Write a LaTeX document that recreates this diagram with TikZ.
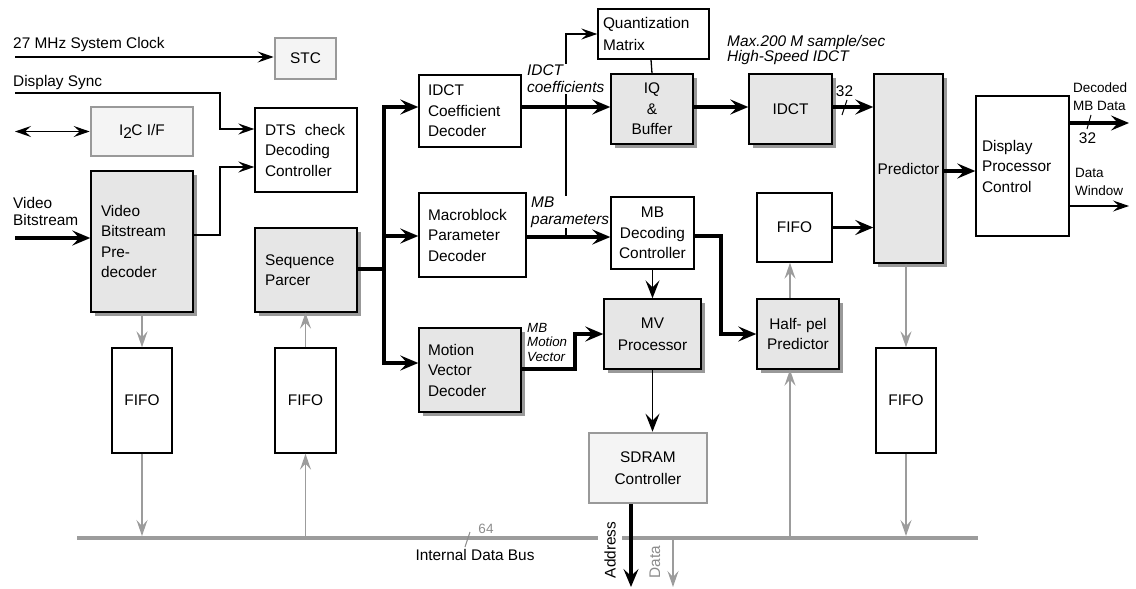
\documentclass[tikz,border=0pt]{standalone}
\usepackage{fontspec}
\setmainfont{Liberation Sans}
\usetikzlibrary{arrows.meta,shadows}
\definecolor{boxfill}{HTML}{E6E6E6}
\definecolor{palefill}{HTML}{F4F4F4}
\definecolor{shadegray}{HTML}{999999}
\definecolor{wiregray}{HTML}{9C9C9C}
\definecolor{labelgray}{HTML}{8C8C8C}
\begin{document}
\begin{tikzpicture}[x=1pt,y=-1pt,
  every node/.style={inner sep=0pt},
  font=\fontsize{15.4}{20.5}\selectfont,
  wbox/.style={draw=black,line width=1.4pt,fill=white},
  gbox/.style={draw=black,line width=1.4pt,fill=boxfill,
     general shadow={fill=shadegray,shadow xshift=4pt,shadow yshift=-4pt}},
  pbox/.style={draw=shadegray,line width=2.6pt,fill=palefill},
  sz/.style 2 args={minimum width=#1,minimum height=#2},
  lt/.style={align=left,text width=#1},
  ct/.style={align=center},
  thk/.style={line width=3.2pt,-{Stealth[length=18pt,width=15pt,inset=7pt]}},
  thkline/.style={line width=3.2pt},
  thn/.style={line width=1.3pt,-{Stealth[length=16pt,width=11pt,inset=6pt]}},
  dbl/.style={line width=1.3pt,{Stealth[length=16pt,width=11pt,inset=6pt]}-{Stealth[length=16pt,width=11pt,inset=6pt]}},
  med/.style={line width=1.6pt,-{Stealth[length=18pt,width=14pt,inset=7pt]}},
  gry/.style={draw=wiregray,line width=1.5pt,-{Stealth[length=16pt,width=11pt,inset=6pt]}},
  lbl/.style={font=\fontsize{15.4}{17}\selectfont\itshape,align=left},
  sml/.style={font=\fontsize{13.5}{18}\selectfont,align=left},
]
\useasboundingbox (0,0) rectangle (1136,589);

% ---------- blocks ----------
\node[pbox,sz={61}{41}] (STC) at (305.5,58.5) {STC};
\node[pbox,sz={102}{49}] (I2C) at (142,131.5) {I\raisebox{-2.5pt}{2}\kern-0.5pt C I/F};
\node[wbox,sz={102}{84},lt=82] (DTS) at (306,150) {DTS\hspace{4pt} check\\Decoding\\Controller};
\node[gbox,sz={102}{141},lt=82] (VBP) at (142,241.5) {Video\\Bitstream\\Pre-\\decoder};
\node[gbox,sz={102}{84},lt=82] (SP) at (306,270) {Sequence\\Parcer};
\node[wbox,sz={60}{105}] (FL) at (142,400.5) {FIFO};
\node[wbox,sz={61}{105}] (FS) at (305.5,400.5) {FIFO};

\node[wbox,sz={102}{72},lt=84] (ICD) at (470,111) {IDCT\\Coefficient\\Decoder};
\node[wbox,sz={107}{84},lt=89] (MPD) at (472.5,235) {Macroblock\\Parameter\\Decoder};
\node[gbox,sz={102}{84},lt=84] (MVD) at (470,370) {Motion\\Vector\\Decoder};

\node[wbox,sz={111}{50},lt=101,font=\fontsize{15.4}{22}\selectfont] (QM) at (653.5,34) {Quantization\\Matrix};
\node[gbox,sz={82}{70},ct] (IQ) at (652,109) {IQ\\\&\\Buffer};
\node[wbox,sz={83}{72},ct] (MBDC) at (652.5,233) {MB\\Decoding\\Controller};
\node[gbox,sz={97}{70},ct,font=\fontsize{15.4}{22}\selectfont] (MVP) at (652.5,334) {MV\\Processor};
\node[pbox,sz={118}{70},ct,font=\fontsize{15.4}{22}\selectfont] (SDR) at (648,468) {SDRAM\\Controller};

\node[gbox,sz={83}{70}] (IDCT) at (790.5,109) {IDCT};
\node[wbox,sz={75}{69}] (FT) at (794.5,227.5) {FIFO};
\node[gbox,sz={82}{70},ct] (HP) at (798,334) {Half- pel\\Predictor};
\node[gbox,sz={69}{189}] (PRD) at (908.5,168.5) {Predictor};
\node[wbox,sz={60}{105}] (FR) at (906,400.5) {FIFO};
\node[wbox,sz={93}{140},lt=81] (DPC) at (1022.5,166) {Display\\Processor\\Control};

% ---------- helper points ----------
\coordinate (clkin) at (15,57);
\coordinate (syncin) at (15,93);
\coordinate (syncjog) at (220,129);
\coordinate (i2cext) at (15,131.5);
\coordinate (vbpjog) at (220,167);
\coordinate (L235) at (0,235);
\coordinate (vidin) at (15,238);
\coordinate (bus) at (0,538);
\coordinate (busT) at (0,536);
\coordinate (busL) at (77,538);
\coordinate (busR) at (978,538);
\coordinate (fanT) at (384,107);
\coordinate (fanM) at (384,236);
\coordinate (fanB) at (384,363);
\coordinate (fanS) at (384,269);
\coordinate (L107) at (0,107);
\coordinate (L171) at (0,171);
\coordinate (L237) at (0,237);
\coordinate (qtap) at (566,237);
\coordinate (mbjog) at (721,236);
\coordinate (mvjog) at (575,369);
\coordinate (hpx) at (790,0);
\coordinate (outA) at (1129,123);
\coordinate (outB) at (1129,206);
\coordinate (addr) at (631,587);
\coordinate (dat) at (673,587);

% ---------- internal data bus ----------
\draw[wiregray,line width=4pt] (busL) -- (busR);
\draw[labelgray,line width=1pt] (465,547) -- (470,532);

% ---------- external inputs ----------
\draw[thn] (clkin) -- (clkin -| STC.west);
\draw[thn] (syncin) -| (syncjog) -- (syncjog -| DTS.west);
\draw[dbl] (i2cext) -- (I2C.west);
\draw[thk] (vidin) -- (vidin -| VBP.west);
\draw[thn] (VBP.east |- L235) -| (vbpjog) -- (vbpjog -| DTS.west);

% ---------- FIFO traffic to and from the bus ----------
\draw[gry] (VBP.south) -- (FL.north);
\draw[gry] (FL.south) -- (FL.south |- busT);
\draw[gry] (FS.south |- bus) -- (FS.south);
\draw[gry] (FS.north) -- (FS.north |- SP.south);
\draw[gry] (PRD.south -| FR.north) -- (FR.north);
\draw[gry] (FR.south) -- (FR.south |- busT);
\draw[gry] (hpx |- HP.north) -- (hpx |- FT.south);
\draw[gry] (hpx |- bus) -- (hpx |- HP.south);

% ---------- sequence parser fan-out ----------
\draw[thkline] (SP.east |- fanS) -- (fanS);
\draw[thk] (fanB) -- (fanT) -- (fanT -| ICD.west);
\draw[thk] (fanT) -- (fanB) -- (fanB -| MVD.west);
\draw[thk] (fanM) -- (fanM -| MPD.west);

% ---------- decoding path ----------
\draw[thn] (qtap) |- (QM.west);
\draw[line width=1.3pt] ([xshift=-2.5pt]QM.south) -- (IQ.north);
\draw[thk] (ICD.east |- L107) -- (IQ.west |- L107);
\draw[thk] (MPD.east |- L237) -- (MBDC.west |- L237);
\draw[thk] (IQ.east |- L107) -- (IDCT.west |- L107);
\draw[thk] (IDCT.east |- L107) -- (PRD.west |- L107);
\draw[line width=1pt] (842,115) -- (847,100);
\draw[thk] (FT.east) -- (FT.east -| PRD.west);
\draw[thk] (PRD.east |- L171) -- (DPC.west |- L171);
\draw[thk] (DPC.east |- outA) -- (outA);
\draw[line width=1pt] (1087,129) -- (1091,115);
\draw[thn] (DPC.east |- outB) -- (outB);
\draw[med] (MBDC.south) -- (MBDC.south |- MVP.north);
\draw[thk] (MBDC.east |- mbjog) -- (mbjog) |- (HP.west);
\draw[thk] (MVD.east |- mvjog) -- (mvjog) |- (MVP.west);
\draw[med] (MVP.south) -- (MVP.south |- SDR.north);

% ---------- labels ----------
\node[anchor=base west] (tclk) at (13,48) {27 MHz System Clock};
\node[anchor=base west] (tsync) at (13,86) {Display Sync};
\node[anchor=west,align=left,font=\fontsize{15.4}{17}\selectfont] (tvid) at (13,211.5) {Video\\Bitstream};
\node[lbl,fill=white,inner sep=1pt,anchor=west] (tcoef) at (526,79) {IDCT\\coefficients};
\node[lbl,fill=white,inner sep=1pt,anchor=west] (tmbp) at (530,212) {MB\\parameters};
\node[lbl,font=\fontsize{13.3}{14.5}\selectfont\itshape,anchor=west] (tmv) at (527,342) {MB\\Motion\\Vector};
\node[lbl,font=\fontsize{15.4}{15.5}\selectfont\itshape,anchor=west] (tmax) at (727,50) {Max.200\hspace{4pt}M sample/sec\\High-Speed IDCT};
\node (t32a) at (844.5,91) {32};
\node[sml,anchor=west] (tdec) at (1073,97) {Decoded\\MB Data};
\node (t32b) at (1087.5,138.5) {32};
\node[sml,anchor=west] (twin) at (1075,182) {Data\\Window};
\node[labelgray,font=\fontsize{13.5}{16}\selectfont] (t64) at (486,529) {64};
\node (tbus) at (475,555) {Internal Data Bus};

% ---------- memory side ----------
\node[fill=white,inner sep=1pt,minimum height=24pt,rotate=90] (taddr) at (610,550) {Address};
\draw[thk] (SDR.south -| addr) -- (addr);
\node[labelgray,rotate=90] (tdat) at (655,562) {Data};
\draw[gry] (dat |- bus) -- (dat);
\end{tikzpicture}
\end{document}
